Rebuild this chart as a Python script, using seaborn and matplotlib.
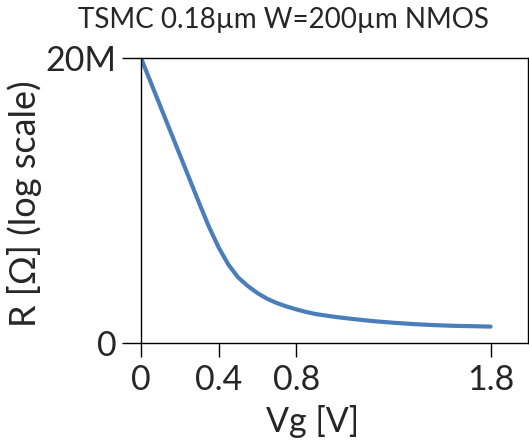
import numpy as np
import pandas as pd
import matplotlib
matplotlib.use("Agg")
import matplotlib.pyplot as plt
import seaborn as sns

vg = [0.0, 0.05, 0.1, 0.15, 0.2, 0.25, 0.3, 0.35, 0.4, 0.45, 0.5, 0.55, 0.6, 0.65,
      0.7, 0.75, 0.8, 0.85, 0.9, 1.0, 1.1, 1.2, 1.3, 1.4, 1.5, 1.6, 1.7, 1.8]
r_mohm = [20.0, 18.3, 16.6, 14.9, 13.2, 11.5, 9.8, 8.15, 6.7, 5.5, 4.6, 4.0, 3.5, 3.1,
          2.8, 2.56, 2.36, 2.18, 2.03, 1.83, 1.67, 1.53, 1.42, 1.33, 1.26, 1.21, 1.18, 1.15]
x_ticks = [0, 0.4, 0.8, 1.8]
x_ticklabels = ["0", "0.4", "0.8", "1.8"]
y_ticks = [0, 20e6]
y_ticklabels = ["0", "20M"]

sns.set_style("white")
plt.rcParams['font.family'] = ['Lato', 'DejaVu Sans']

df = pd.DataFrame({"Vg": vg, "R": np.array(r_mohm) * 1e6})

fig = plt.figure(figsize=(5.29, 4.42), dpi=100)
ax = fig.add_axes([141/529, 1-343/442, (527.5-141)/529, (343-58)/442])
sns.lineplot(data=df, x="Vg", y="R", ax=ax, color="#4A7EBB", linewidth=3.0,
             solid_joinstyle='round', solid_capstyle='round')

ax.set_xlim(0, 1.99)
ax.set_ylim(0, 20e6)
ax.set_xticks(x_ticks)
ax.set_xticklabels(x_ticklabels)
ax.set_yticks(y_ticks)
ax.set_yticklabels(y_ticklabels)
ax.tick_params(axis='x', direction='out', length=10, width=1, color='black', labelsize=24.5, pad=5, bottom=True)
ax.tick_params(axis='y', direction='out', length=13.5, width=1, color='black', labelsize=24.5, pad=4, left=True)
for s in ax.spines.values():
    s.set_visible(True)
    s.set_color('black')
    s.set_linewidth(1.0)
ax.set_xlabel("")
ax.set_ylabel("")

fig.text(283/529, 1-20/442, "TSMC 0.18µm W=200µm NMOS", ha='center', va='center', fontsize=20)
fig.text(313/529, 1-421/442, "Vg [V]", ha='center', va='center', fontsize=24.5)
fig.text(25/529, 1-204/442, "R [Ω] (log scale)", ha='center', va='center', rotation=90, fontsize=26)

fig.savefig("out.png", dpi=100)
